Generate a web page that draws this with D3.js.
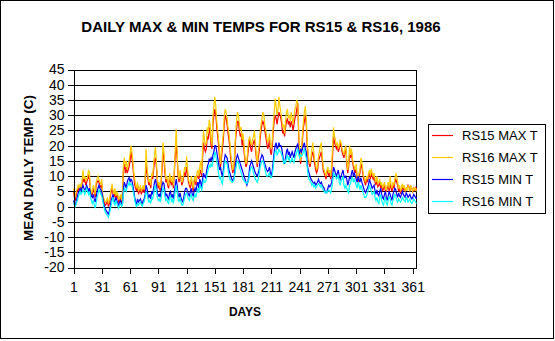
<!DOCTYPE html>
<html><head><meta charset="utf-8">
<script src="https://cdn.jsdelivr.net/npm/d3@7"></script>
<style>body{margin:0;background:#fff} svg{display:block} text{font-family:"Liberation Sans",Arial,sans-serif;fill:#000}</style>
</head><body><svg id="c" width="555" height="341"></svg>
<script>
// RS15 daily maximum temperature (C), days 1..365
const rs15Max = [
5,3,2,4,5,6,5,6.5,5,7,
10,8,9,7,8,9,10,9,5,3.5,
4,6,5,3,7,8,8.5,8,7,6.5,
7,3,2,1,0.5,1,2,0,1,3,
5,6,4,3,5,2.5,4,3,1.5,2,
3,1,4,12,14,11,13,11,12,13,
15,18,16,13,10,7,6,5,7,4,
5,6,4,5,6,4.5,8,14,11,9,
7,8,6,10,9,12,15,16,13,8,
6,7,5,8,12,18,16,11,8,9,
7,6,10,8,7,9,6,11,17,20,
16,10,8,11,9,7,8,10,11,10,
13,11,8,7,6,9,7,5,8,9,
7,10,10,9,11,12,10,16,21,19,
18,19,23,22,26,24,20,19,27,30,
32,30,26,23,20,16,13,16,19,22,
27,30,29,27,24,22,19,15,13,11,
12,15,22,25,28,28,25,23,24,20,
22,18,15,13,14,17,20,22,19,18,
20,21,22,19,16,13,16,18,22,25,
27,28,27,25,23,21,19,20,22,18,
17,20,25,28,30,29,27,29,31,30,
29,27,24,25,23,26,28,29,27,28,
26,28,27,25,27,29,30,32,34,23,
17,14,18,22,26,28,30,27,20,16,
14,13,15,17,18,16,14,12,11,12,
15,16,17,18,15,12,11,10,9,11,
12,10,11,9,12,17,23,21,20,19,
20,18,19,21,20,18,17,16,18,19,
14,11,13,17,16,18,15,13,12,11,
13,9,8,10,11,14,13,11,9,8,
7,9,8,10,11,9,11,10,9,10,
8,7,9,6.5,7,8,6,7,5,6,
7,5,5,6,7,5,8,6,5,7,
6,8,9,8,7,5,6,4.5,5,7,
5.5,6,5,5.5,6,7,6.5,5,6.5,6,
5,6,5,6.5,5.5];
// RS16 daily maximum temperature (C)
const rs16Max = [
6,4,3.5,5,6,7,6,7.5,6,8,
12,9,10,8.5,9,10,12,11,6,4.5,
5,7,6,4,8,9,10,9,8,7.5,
9,4,3,2,1.5,2,3,1,2,4,
6,7.5,5,4,6,3.5,5,4,2.5,3,
4,2,5,14,16,13,15,12,14,15,
17,20,18,15,11,9,7,6,8,5,
6,7,5,6,7,5.5,9,19,13,10,
8,9,7,11,10,14,17,19.5,15,9,
7,8,6,9,14,21,18,13,9,10,
8,7,11,9,8,10,7,12,19,25.5,
18,11,9,12,10,8,9,11,13,12,
16.5,13,9,8,7,10,8,6,9,10,
8,11,12,10,13,15,11,19,25,22,
20,21,26,24,28.5,27,22,20,30,33,
36,33,28,25,22,18,14,18,21,24,
30,32,31,29,26,24,21,17,14,12,
13,17,24,28,31,30,27,25,26,22,
24,20,16,14,15,19,22,23,21,20,
22,23,25,21,17,14,18,20,24,27,
29,31,30,27,25,23,21,22,24,20,
19,22,27,31,35.5,33,30,32,36,33,
31,29,26,27,24,28,31,32,29,30,
28,31,29,27,30,32,33,35,34,25,
18,15,19,24,28,31,33,29,22,17,
15,14,16,19,21,18,15,14,12,13,
17,18,20,21,17,13,12,11,10,12,
13,11,12,10,14,20,26,23,22,20,
21,19,20,22,21,19,18,17,19,20,
15,12,14,20,17,19,16,14,13,12,
14,10,9,11,12,16,15,12,10,9,
8,10,9,11,12,10,12.5,11,10,11,
9,8,10,7.5,8,9,7,8,6,7,
8,6,5.5,7,8,6,10,7,6,8,
7,9,11,10,8,6,7,5,6,7.5,
6,7,5,6,5.5,7,6,5,7,6,
5,6,5.5,6,5];
// RS15 daily minimum temperature (C)
const rs15Min = [
2,1,0.5,2,3,4.5,5,6,5,6,
7,6,5.5,6,7,6,5,6,4.5,3.5,
3,4,2.5,1.5,3,5,6,7,6,5.5,
5,3,1,0,-1,-1.5,-2,-2.5,-1.5,0,
2,3,4,2,1.5,3,2,1,0.5,1.5,
2,0.5,1,6,8,7,6,8,9,9.5,
8,9,8.5,7,5,3,1.5,1,2.5,1.5,
2,2.5,1.5,1,2,2.5,4,7,6,4,
3,4,2.5,5,4,6,8,9,7,4.5,
3.5,4,3,5,7,8,7.5,5,3.5,4,
3,2.5,4.5,5,3,4,2.5,5,7,9,
7,4,3,4.5,3,2,1.5,3,5,6,
6,5,4,3.5,5,6,4,3.5,5,6,
5,7,8,6,9,8,6,9,11,10,
9.5,11,13,14,15.5,15,16,15,17,18,
20,20,18,16,14,12,13,11,10,12,
15,17,16.5,16,14,12,11,10,9,8.5,
9,11,14,16,17,16,15,14,13,12,
11,10,9,8,7,8,10,13,14,15,
14,13,12,11,10.5,10,11,12,15,16,
17,16.5,15,14,13,12,11.5,12,13,11,
10,12,15,18,20,21,19,19.5,21,20,
20,19,17,15,14,16,18,19,17,18,
16,17,18,17,16,18,19,20,20.5,18,
17.5,19,18,19,20,21,19,18,14,12,
11,10,9,8.5,8,7.5,8,7,7.5,8,
9,8,7.5,8,7,6.5,6,5,4.5,5,
6,7,6.5,7,8,10,13,12,11,10,
11,12,10,9,10,11,12,10,9.5,10,
9,7,8,10,9,11,12,10,11,10,
9,8,10,9,8,9.5,8,7,6,5,
4.5,5.5,6,7,9,8,7,6,6.5,7,
5,4,5.5,4,3.5,5,6,4,3,2.5,
4,5,3,2,3.5,5,4,3,2,4,
5,6,5.5,4,3,4.5,3.5,3,4,5,
4,3.5,3,4.5,4,3,3.5,4,3,2.5,
3,4,3.5,3,2.5];
// RS16 daily minimum temperature (C)
const rs16Min = [
1,0.5,0,1,2,3,4,5,4,4.5,
5.5,5,4,5,6,5,4,5,3,2,
1,2,0.5,-0.5,1,3,4,5.5,5,4,
3.5,2,0,-1,-2,-2.5,-3,-3.5,-2.5,-1,
0.5,2,3,1,0.5,2,1,0,-0.5,0.5,
1,0,0.5,4,6,5.5,5,6.5,7,8,
7,7.5,7,5.5,4,2,0.5,0,1,0.5,
1,1.5,0.5,0,1,1.5,3,5,4,2.5,
1.5,2,1,3,2.5,4,6,7,5,3,
2,2.5,1.5,3,5,6,5.5,3.5,2,2.5,
1.5,1,3,3.5,1.5,2.5,1,3,5,7,
5,2.5,1.5,3,1.5,0.5,0.5,1.5,3,4,
4.5,3.5,2.5,2,3.5,4,2.5,2,3,4,
3,5,6,4.5,7,6.5,5,7,9,8,
8,9,11,12,13.5,13,14,13,15,16,
18,17,15,13,11,9,10,8,7.5,10,
13,15,14.5,14,12,10,9,8.5,8,8,
8.5,10,12,14,15,14.5,13,12,11,10,
9,8.5,8,8,7.5,8,9,11,12.5,13,
12.5,11,10,9,8.5,8,9,10.5,13,14,
15,15,14,12.5,11,10,10,10.5,11,9.5,
9.5,10.5,13,16,18,18.5,17,17.5,19,18,
18,17,16,14,15,14.5,16,17,15.5,16,
14.5,15,16,15,14.5,16,17,18,19,17,
16,17,16.5,17,18,19,17,16,13,10,
9,8.5,8,7,7.5,6.5,7,6,6.5,7,
7.5,7,6.5,7,6,5.5,5,4.5,5,4.5,
5,5.5,5,4.5,6,8,11,10.5,10,9,
9.5,10.5,8,7,8.5,9,10,7,6,7,
6,5,4.5,7,7.5,9,9.5,8,9,8,
7,6,8,7,5.5,7,6,5,4,3,
3,3.5,4.5,5.5,7,6,5,4,4.5,5,
3,2,3,1.5,1,3,4,2,1,0.5,
2,3,1,0.5,2,3.5,2.5,1,0.5,2,
3,4,3.5,2,1.5,2.5,2,1.5,2,3,
2.5,2,1.5,3,2.5,1.5,2,2.5,1.5,1,
1.5,2.5,2,1.5,1];

const seriesNames = ["RS15 MAX T", "RS16 MAX T", "RS15 MIN T", "RS16 MIN T"];
const yTickValues = [-20,-15,-10,-5,0,5,10,15,20,25,30,35,40,45];
const xTickValues = [1,31,61,91,121,151,181,211,241,271,301,331,361];
const titleText = "DAILY MAX & MIN TEMPS FOR RS15 & RS16, 1986";
const xTitle = "DAYS";
const yTitle = "MEAN DAILY TEMP (C)";

const colors = ["#ff0000", "#ffcc00", "#0000ff", "#00ffff"];
const allSeries = [rs15Max, rs16Max, rs15Min, rs16Min];

const svg = d3.select("#c");
svg.append("rect").attr("x",0.5).attr("y",0.5).attr("width",553).attr("height",338)
  .attr("fill","#fff").attr("stroke","#000").attr("shape-rendering","crispEdges");

const L = 73.5, R = 416.5, T = 69.5, B = 267.5;
const x = d3.scaleLinear().domain([1,365]).range([L, R]);
const y = d3.scaleLinear().domain([-20,45]).range([B, T]);

svg.append("text").attr("x",261).attr("y",32).attr("text-anchor","middle")
  .attr("font-size",15).attr("font-weight","bold").text(titleText);

// gridlines
svg.append("g").selectAll("line").data(yTickValues.filter(v=>v>-20)).join("line")
  .attr("x1",L).attr("x2",R).attr("y1",d=>Math.round(y(d))+0.5).attr("y2",d=>Math.round(y(d))+0.5)
  .attr("stroke","#000").attr("shape-rendering","crispEdges");
svg.append("line").attr("x1",R).attr("x2",R).attr("y1",T).attr("y2",B)
  .attr("stroke","#000").attr("shape-rendering","crispEdges");

// series
const line = d3.line().x((d,i)=>x(i+1)).y(d=>y(d));
svg.append("g").selectAll("path").data(allSeries).join("path")
  .attr("d", line).attr("fill","none").attr("stroke",(d,i)=>colors[i]).attr("stroke-width",1.2)
  .attr("stroke-linejoin","miter");

// axes
const ya = svg.append("g").attr("transform",`translate(${L},0)`)
  .call(d3.axisLeft(y).tickValues(yTickValues).tickSize(6).tickSizeOuter(0).tickPadding(3).tickFormat(d=>String(d)));
const xa = svg.append("g").attr("transform",`translate(0,${B})`)
  .call(d3.axisBottom(x).tickValues(xTickValues).tickSize(6).tickSizeOuter(0).tickPadding(9).tickFormat(d=>String(d)));
[ya, xa].forEach(a=>{
  a.selectAll("path,line").attr("stroke","#000").attr("shape-rendering","crispEdges");
  a.selectAll("text").attr("font-size",14).attr("font-family",'"Liberation Sans",Arial,sans-serif').attr("fill","#000");
});

svg.append("text").attr("x",245).attr("y",316).attr("text-anchor","middle")
  .attr("font-size",12).attr("font-weight","bold").text(xTitle);
svg.append("text").attr("transform","translate(33,168) rotate(-90)").attr("text-anchor","middle")
  .attr("font-size",13.5).attr("font-weight","bold").text(yTitle);

// legend
const lg = svg.append("g");
lg.append("rect").attr("x",428.5).attr("y",124.5).attr("width",117).attr("height",89)
  .attr("fill","#fff").attr("stroke","#000").attr("shape-rendering","crispEdges");
const items = lg.selectAll("g.it").data(seriesNames).join("g").attr("class","it")
  .attr("transform",(d,i)=>`translate(0,${135 + i*22})`);
items.append("line").attr("x1",432).attr("x2",453).attr("y1",0.5).attr("y2",0.5)
  .attr("stroke",(d,i)=>colors[i]).attr("stroke-width",1.2);
items.append("text").attr("x",462).attr("dy","0.36em").attr("font-size",13).text(d=>d);
</script></body></html>
